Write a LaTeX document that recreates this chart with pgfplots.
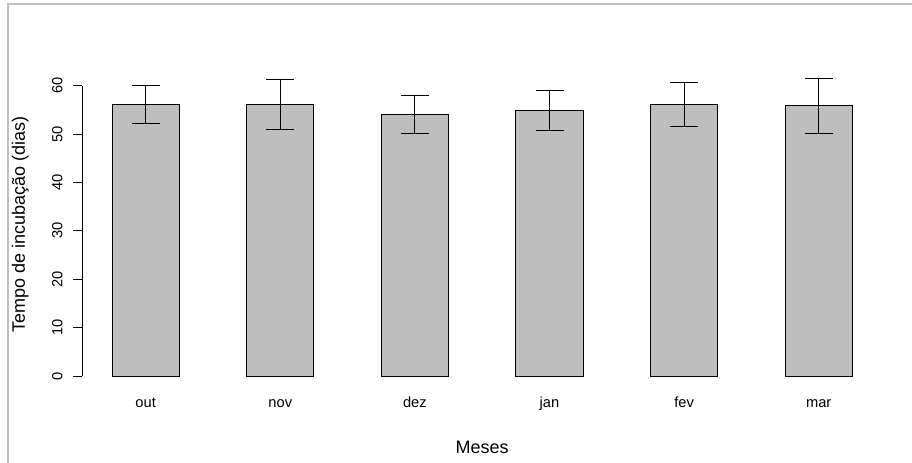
\documentclass[border=0pt]{standalone}
\usepackage{fontspec}
\setmainfont{Liberation Sans}
\usepackage{pgfplots}
\pgfplotsset{compat=1.18}
\definecolor{bargray}{RGB}{190,190,190}
\definecolor{framegray}{RGB}{192,192,192}
\begin{document}
\begin{tikzpicture}
\path[use as bounding box] (0pt,0pt) rectangle (684pt,347.25pt);
\draw[framegray, line width=1.5pt] (5.775pt,0pt) -- (5.775pt,344.4pt) -- (684pt,344.4pt);
\begin{axis}[
  at={(61.8pt,56.175pt)}, anchor=south west,
  scale only axis,
  width=599.7pt, height=245.0pt,
  xmin=0.56, xmax=12.44,
  ymin=-2.5, ymax=65,
  axis line style={draw=none},
  ybar, bar width=1,
  xtick={1.5,3.5,5.5,7.5,9.5,11.5},
  xticklabels={out,nov,dez,jan,fev,mar},
  x tick style={draw=none},
  xtick pos=bottom,
  ytick={0,10,20,30,40,50,60},
  ytick pos=left,
  tick align=outside,
  y tick style={black, line width=0.75pt},
  major tick length=6.75pt,
  /pgf/number format/assume math mode=true,
  tick label style={font=\fontsize{11}{12}\selectfont},
  xticklabel style={anchor=base, yshift=-8pt},
  yticklabel shift=8pt,
  yticklabel style={rotate=90, anchor=south, inner sep=0pt},
  every axis x label/.style={at={(axis description cs:0.5,-0.2017)}, anchor=base},
  every axis y label/.style={at={(axis description cs:-0.0718,0.5)}, anchor=base, rotate=90},
  label style={font=\fontsize{13.5}{15}\selectfont},
  xlabel={Meses},
  ylabel={Tempo de incubação (dias)},
  clip=false,
]
\addplot[fill=bargray, draw=black, line width=0.75pt,
  error bars/.cd, y dir=both, y explicit,
  error bar style={black, line width=0.75pt},
  error mark options={rotate=90, mark size=10.5pt, line width=0.75pt, black}]
  coordinates {
  (1.5,56.1) +- (0,3.85)
  (3.5,56.15) +- (0,5.15)
  (5.5,54.0) +- (0,3.95)
  (7.5,54.85) +- (0,4.05)
  (9.5,56.1) +- (0,4.55)
  (11.5,55.8) +- (0,5.6)
  };
\draw[black, line width=0.75pt] (axis cs:0.56,0) -- (axis cs:0.56,60);
\end{axis}
\end{tikzpicture}
\end{document}
